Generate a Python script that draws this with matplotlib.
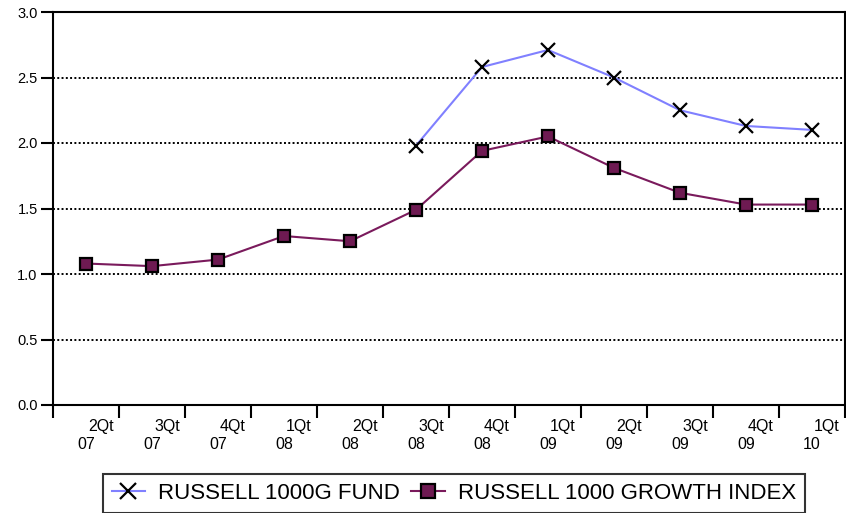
import matplotlib
matplotlib.use("Agg")
import matplotlib.pyplot as plt
from matplotlib.lines import Line2D

plt.rcParams['font.family'] = ['Liberation Sans Narrow', 'Liberation Sans', 'DejaVu Sans']

quarters = ["2Qt", "3Qt", "4Qt", "1Qt", "2Qt", "3Qt", "4Qt", "1Qt", "2Qt", "3Qt", "4Qt", "1Qt"]
years = ["07", "07", "07", "08", "08", "08", "08", "09", "09", "09", "09", "10"]
fund = [None, None, None, None, None, 1.98, 2.58, 2.71, 2.50, 2.25, 2.13, 2.10]
index = [1.08, 1.06, 1.11, 1.29, 1.25, 1.49, 1.94, 2.05, 1.81, 1.62, 1.53, 1.53]
yticks = [0.0, 0.5, 1.0, 1.5, 2.0, 2.5, 3.0]

fig = plt.figure(figsize=(8.46, 5.13), dpi=100)
ax = fig.add_axes([53/846, 108/513, 792/846, 393/513])

x = list(range(len(index)))
fx = [i for i, v in enumerate(fund) if v is not None]
fy = [v for v in fund if v is not None]

ax.plot(fx, fy, color='#8080ff', lw=1.5, marker='x', ms=10, mew=1.6,
        mec='black', zorder=3)
ax.plot(x, index, color='#7a1a5c', lw=1.5, marker='s', ms=9, mew=1.6,
        mfc='#6e1a52', mec='black', zorder=4)

ax.set_xlim(-0.5, 11.5)
ax.set_ylim(0, 3.0)
ax.set_yticks(yticks)
ax.set_yticklabels([f"{v:.1f}" for v in yticks], fontsize=10.5)
for v in yticks[1:-1]:
    ax.axhline(v, color='black', lw=1.4, ls=(0, (1, 1.2)), zorder=1)

ax.set_xticks([i - 0.5 for i in range(len(index) + 1)])
ax.set_xticklabels([])
ax.tick_params(axis='x', direction='out', length=9, width=1.5)
ax.tick_params(axis='y', direction='out', length=9, width=1.5, pad=2)
for s in ax.spines.values():
    s.set_linewidth(1.5)

for i, (q, y) in enumerate(zip(quarters, years)):
    ax.annotate(q, xy=(i, 0), xycoords='data', xytext=(15, -14),
                textcoords='offset pixels', ha='center', va='top', fontsize=11.5)
    ax.annotate(y, xy=(i, 0), xycoords='data', xytext=(0, -32),
                textcoords='offset pixels', ha='center', va='top', fontsize=11.5)

handles = [Line2D([], [], color='#8080ff', lw=1.5, marker='x', ms=11, mew=1.6, mec='black'),
           Line2D([], [], color='#7a1a5c', lw=1.5, marker='s', ms=10, mew=1.6,
                  mfc='#6e1a52', mec='black')]
leg = fig.legend(handles, ["RUSSELL 1000G FUND", "RUSSELL 1000 GROWTH INDEX"],
                 loc='lower center', bbox_to_anchor=(454/846, -11/513), ncol=2,
                 fontsize=16, frameon=True, fancybox=False, handlelength=1.5,
                 handletextpad=0.6, columnspacing=0.5, borderpad=0.4, edgecolor='black')
leg.get_frame().set_linewidth(1.5)

fig.savefig("out.png", dpi=100)
